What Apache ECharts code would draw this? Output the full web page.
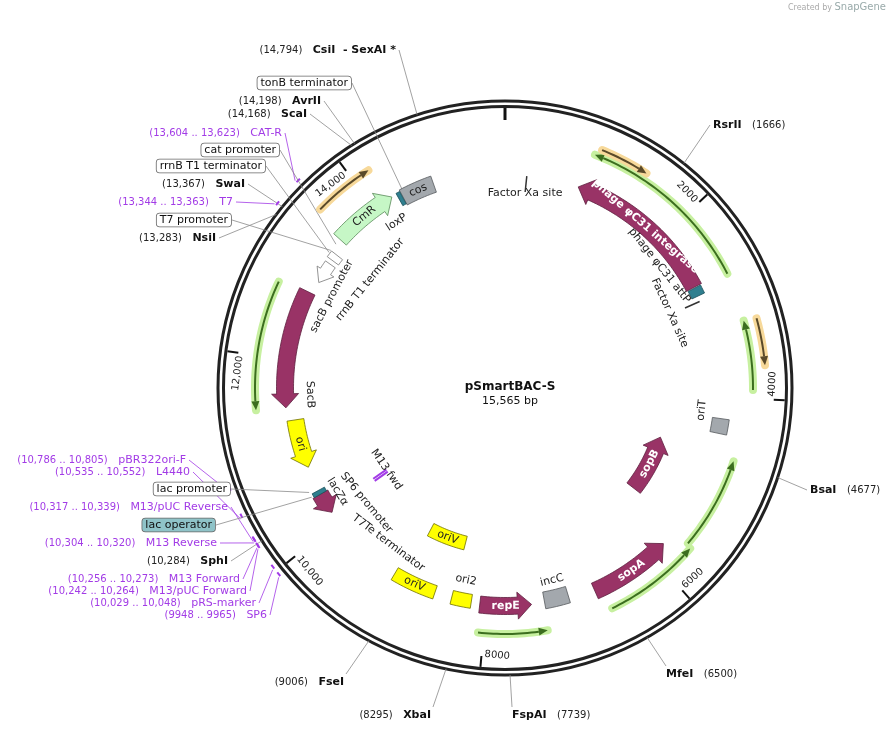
<!DOCTYPE html>
<html>
<head>
<meta charset="utf-8">
<script src="https://cdn.jsdelivr.net/npm/echarts@6/dist/echarts.min.js"></script>
<style>html,body{margin:0;padding:0;background:#fff}#main{width:894px;height:731px}</style>
</head>
<body>
<div id="main"></div>
<script>
"use strict";

var TOTAL = 15565;

// tick labels on the ring
var tickBp = [2000, 4000, 6000, 8000, 10000, 12000, 14000];
var tickText = ["2000", "4000", "6000", "8000", "10,000", "12,000", "14,000"];

// features drawn on the map: name, start, end, direction (1 fwd, -1 rev, 0 none), kind
var featName = ["phage \u03c6C31 integrase", "phage \u03c6C31 attP", "SacB", "CmR", "cos", "loxP", "sacB promoter", "rrnB T1", "ori", "lacZ\u03b1", "lac operator", "oriV", "oriV", "ori2", "repE", "incC", "sopA", "sopB", "oriT"];
var featStart = [865, 2690, 11450, 13490, 14350, 14300, 12950, 13250, 10725, 10130, 10380, 8400, 8600, 8170, 7480, 7050, 5815, 4650, 4240];
var featEnd = [2680, 2790, 12800, 14240, 14730, 14345, 13200, 13330, 11300, 10380, 10430, 8980, 9110, 8400, 8070, 7330, 6750, 5530, 4410];
var featDir = [-1, 0, -1, 1, 0, 0, -1, 0, -1, -1, 0, 0, 0, 0, -1, 0, -1, -1, 0];
var featKind = ["cds", "teal", "cds", "marker", "gray", "teal", "prom", "term", "ori", "cds", "teal", "ori", "ori", "ori", "cds", "gray", "cds", "cds", "gray"];
var featLayer = [214, 214, 220, 222, 216, 216, 214, 214, 212, 213, 213, 160, 216, 216, 218, 216, 222, 163, 218];

// ORF-like highlighted arrows
var orfStart = [912, 3210, 4660, 5660, 7350, 11453, 13577, 960, 3222];
var orfEnd = [2715, 3912, 5635, 6660, 8055, 12763, 14177, 1444, 3675];
var orfDir = [-1, -1, -1, -1, -1, -1, 1, 1, 1];
var orfColor = ["green", "green", "green", "green", "green", "green", "orange", "orange", "orange"];
var orfLayer = [250, 248, 240, 245, 246, 250, 257, 257, 261];

// small Factor Xa / M13 fwd marks
var markBp = [254, 2855, 10160];
var markColor = ["#333", "#333", "#a23be6"];
var markLayer = [205, 205, 152];

// text labels inside the ring
var innerText = ["Factor Xa site", "phage \u03c6C31 attP", "Factor Xa site", "SacB", "sacB promoter", "rrnB T1 terminator", "loxP", "M13 fwd", "SP6 promoter", "lacZ\u03b1", "T7Te terminator", "ori2", "incC", "oriT"];
var innerBp = [254, 2232, 2832, 11590, 12880, 13350, 14130, 10180, 9960, 10300, 9380, 8280, 7190, 4170];
var innerLayer = [196, 197, 181, 195, 196, 173, 198, 144, 180, 197, 194, 196, 198, 198];

// restriction sites, primers and boxed feature labels outside the ring
var siteNum = ["(14,794)", "", "(14,198)", "(14,168)", "(13,604 .. 13,623)", "", "", "(13,367)", "(13,344 .. 13,363)", "", "(13,283)",
  "(10,786 .. 10,805)", "(10,535 .. 10,552)", "", "(10,317 .. 10,339)", "", "(10,304 .. 10,320)", "(10,284)", "(10,256 .. 10,273)", "(10,242 .. 10,264)", "(10,029 .. 10,048)", "(9948 .. 9965)",
  "(9006)", "(8295)", "(7739)", "(6500)", "(4677)", "(1666)"];
var siteName = ["CsiI  - SexAI *", "tonB terminator", "AvrII", "ScaI", "CAT-R", "cat promoter", "rrnB T1 terminator", "SwaI", "T7", "T7 promoter", "NsiI",
  "pBR322ori-F", "L4440", "lac promoter", "M13/pUC Reverse", "lac operator", "M13 Reverse", "SphI", "M13 Forward", "M13/pUC Forward", "pRS-marker", "SP6",
  "FseI", "XbaI", "FspAI", "MfeI", "BsaI", "RsrII"];
var siteBp = [14794, 14380, 14198, 14168, 13604, 13420, 13300, 13367, 13344, 13330, 13283,
  10786, 10535, 10460, 10317, 10400, 10304, 10284, 10256, 10242, 10029, 9948,
  9006, 8295, 7739, 6500, 4677, 1666];
var siteEnd = [0, 0, 0, 0, 13623, 0, 0, 0, 13363, 0, 0,
  10805, 10552, 0, 10339, 0, 10320, 0, 10273, 10264, 10048, 9965,
  0, 0, 0, 0, 0, 0];
var siteKind = ["site", "box", "site", "site", "primer", "box", "box", "site", "primer", "box", "site",
  "primer", "primer", "box", "primer", "tealbox", "primer", "site", "primer", "primer", "primer", "primer",
  "site", "site", "site", "site", "site", "site"];

// label anchor positions (layout only)
var labelAt = [[396, 50], [351, 83], [321, 101], [307, 114], [282, 133], [279, 150], [265, 166], [245, 184], [233, 202], [231, 220], [216, 238],
  [186, 460], [190, 472], [230, 489], [228, 507], [215, 525], [217, 543], [228, 561], [240, 579], [247, 591], [256, 603], [267, 615],
  [344, 682], [431, 715], [512, 715], [666, 674], [810, 490], [713, 125]];

var FONT = "DejaVu Sans";
var PURPLE = "#a23be6";

function pt(api, r, bp) { return api.coord([r, ((bp % TOTAL) + TOTAL) % TOTAL]); }
function deg(bp) { return bp / TOTAL * 360; }
function tanRot(bp) {
  var d = deg(bp);
  var r = -d;
  if (d > 90 && d < 270) r += 180;
  return r * Math.PI / 180;
}
function flipped(bp) { var d = deg(bp); return d > 90 && d < 270; }
function arcPts(api, r, a, b) {
  var out = [], n = Math.max(2, Math.ceil(Math.abs(b - a) / 40));
  for (var i = 0; i <= n; i++) out.push(pt(api, r, a + (b - a) * i / n));
  return out;
}

function featColors(kind) {
  if (kind === "cds") return ["#993366", "#5e1f3f"];
  if (kind === "marker") return ["#c6f7c6", "#5a8a5a"];
  if (kind === "gray") return ["#a3a8ad", "#55595d"];
  if (kind === "teal") return ["#2f7f8f", "#1b4f59"];
  if (kind === "ori") return ["#ffff00", "#6f6f00"];
  return ["#ffffff", "#777"];
}

function renderFeature(params, api) {
  var i = params.dataIndex;
  var r = featLayer[i], a = featStart[i], b = featEnd[i], dir = featDir[i], kind = featKind[i];
  var w = (kind === "term" || kind === "teal") ? 14 : (kind === "prom" ? 12 : 17);
  if (kind === "ori" && i !== 8) w = 14;
  var hw = kind === "prom" ? 4 : 5;
  var bpPx = TOTAL / (2 * Math.PI * r);
  var hl = dir ? Math.min(14 * bpPx, (b - a) * 0.6) : 0;
  var pts = [];
  if (dir === 1) {
    var bb = b - hl;
    pts = arcPts(api, r + w / 2, a, bb);
    pts.push(pt(api, r + w / 2 + hw, bb), pt(api, r, b), pt(api, r - w / 2 - hw, bb));
    pts = pts.concat(arcPts(api, r - w / 2, bb, a));
  } else if (dir === -1) {
    var aa = a + hl;
    pts = [pt(api, r, a), pt(api, r + w / 2 + hw, aa)];
    pts = pts.concat(arcPts(api, r + w / 2, aa, b));
    pts = pts.concat(arcPts(api, r - w / 2, b, aa));
    pts.push(pt(api, r - w / 2 - hw, aa));
  } else {
    pts = arcPts(api, r + w / 2, a, b).concat(arcPts(api, r - w / 2, b, a));
  }
  var c = featColors(kind);
  var children = [{ type: "polygon", shape: { points: pts }, style: { fill: c[0], stroke: c[1], lineWidth: 0.8 } }];
  var mid = (a + b) / 2, p = pt(api, r, mid);
  var label = null, fill = "#fff", bold = true;
  if (kind === "cds" && i !== 9) label = featName[i];
  if (kind === "marker" || kind === "ori" && i !== 13 || i === 4) { label = featName[i]; fill = "#222"; bold = false; }
  if (i === 2) label = null;
  if (label) {
    children.push({
      type: "text", x: p[0], y: p[1], rotation: tanRot(mid),
      style: { text: label, fill: fill, font: (bold ? "bold " : "") + "11px " + FONT, align: "center", verticalAlign: "middle" }
    });
  }
  return { type: "group", children: children };
}

function renderOrf(params, api) {
  var i = params.dataIndex;
  var r = orfLayer[i], a = orfStart[i], b = orfEnd[i], dir = orfDir[i];
  var glow = orfColor[i] === "green" ? "#c7f0a0" : "#f7d99a";
  var line = orfColor[i] === "green" ? "#3c6e1f" : "#5a4a2a";
  var bpPx = TOTAL / (2 * Math.PI * r);
  var hl = 9 * bpPx;
  var tip = dir === 1 ? b : a, base = dir === 1 ? b - hl : a + hl;
  var body = dir === 1 ? arcPts(api, r, a, base) : arcPts(api, r, base, b);
  return {
    type: "group", children: [
      { type: "polyline", shape: { points: arcPts(api, r, a, b) }, style: { stroke: glow, lineWidth: 8, lineCap: "round", fill: null } },
      { type: "polyline", shape: { points: body }, style: { stroke: line, lineWidth: 2, fill: null } },
      { type: "polygon", shape: { points: [pt(api, r, tip), pt(api, r + 4, base), pt(api, r - 4, base)] }, style: { fill: line } }
    ]
  };
}

function renderRing(params, api) {
  var c = pt(api, 0, 0);
  var children = [
    { type: "circle", shape: { cx: c[0], cy: c[1], r: 287 }, style: { fill: null, stroke: "#222", lineWidth: 3 } },
    { type: "circle", shape: { cx: c[0], cy: c[1], r: 281.5 }, style: { fill: null, stroke: "#222", lineWidth: 3 } }
  ];
  var p0 = pt(api, 280, 0), p1 = pt(api, 268, 0);
  children.push({ type: "line", shape: { x1: p0[0], y1: p0[1], x2: p1[0], y2: p1[1] }, style: { stroke: "#111", lineWidth: 3 } });
  return { type: "group", children: children };
}

function renderTick(params, api) {
  var i = params.dataIndex, bp = tickBp[i];
  var p0 = pt(api, 280, bp), p1 = pt(api, 269, bp);
  var lp = pt(api, 272, bp);
  var fl = flipped(bp);
  return {
    type: "group", children: [
      { type: "line", shape: { x1: p0[0], y1: p0[1], x2: p1[0], y2: p1[1] }, style: { stroke: "#111", lineWidth: 2 } },
      {
        type: "text", x: lp[0], y: lp[1], rotation: tanRot(bp),
        style: { text: tickText[i], fill: "#222", font: "10px " + FONT, align: fl ? "left" : "right", verticalAlign: fl ? "bottom" : "top", padding: [0, 3] }
      }
    ]
  };
}

function renderMark(params, api) {
  var i = params.dataIndex, bp = markBp[i], r = markLayer[i];
  var children = [];
  var offs = i === 2 ? [-20, 20] : [0];
  offs.forEach(function (o) {
    var p0 = pt(api, r - 8, bp + o), p1 = pt(api, r + 8, bp + o);
    children.push({ type: "line", shape: { x1: p0[0], y1: p0[1], x2: p1[0], y2: p1[1] }, style: { stroke: markColor[i], lineWidth: i === 2 ? 2 : 1.5 } });
  });
  return { type: "group", children: children };
}

function renderInner(params, api) {
  var i = params.dataIndex, bp = innerBp[i];
  var p = pt(api, innerLayer[i], bp);
  return {
    type: "text", x: p[0], y: p[1], rotation: i === 0 ? 0 : tanRot(bp),
    style: { text: innerText[i], fill: "#222", font: "11px " + FONT, align: "center", verticalAlign: "middle" }
  };
}

function renderSite(params, api) {
  var i = params.dataIndex, kind = siteKind[i], bp = siteBp[i];
  var lx = labelAt[i][0], ly = labelAt[i][1];
  var leftSide = i <= 23;
  var children = [];
  var rr = kind === "box" || kind === "tealbox" ? 222 : (kind === "primer" ? 295 : 287);
  var ring = pt(api, rr, bp);
  var ax = lx + 3, ay = ly;
  if (i >= 22) { ax = lx + 2; ay = ly - 8; }
  if (i === 24 || i === 25) { ax = lx; ay = ly - 8; }
  if (i === 26 || i === 27) { ax = lx - 3; ay = ly; }
  if (kind === "box" || kind === "tealbox") ax = lx + 1;
  children.push({ type: "line", shape: { x1: ax, y1: ay, x2: ring[0], y2: ring[1] }, style: { stroke: kind === "primer" ? PURPLE : "#8a8a8a", lineWidth: 0.8 } });
  if (kind === "primer") {
    var e = Math.max(siteEnd[i], bp + 40);
    children.push({ type: "polyline", shape: { points: arcPts(api, 293, bp, e) }, style: { stroke: PURPLE, lineWidth: 2, fill: null } });
  }
  var text, st = { font: "11px " + FONT, fill: "#111", align: leftSide ? "right" : "left", verticalAlign: "middle" };
  if (kind === "site") {
    text = leftSide ? "{n|" + siteNum[i] + "}   {b|" + siteName[i] + "}" : "{b|" + siteName[i] + "}   {n|" + siteNum[i] + "}";
    st.rich = { n: { font: "10px " + FONT, fill: "#222" }, b: { font: "bold 11px " + FONT, fill: "#111" } };
  } else if (kind === "primer") {
    text = "{n|" + siteNum[i] + "}   {b|" + siteName[i] + "}";
    st.rich = { n: { font: "10px " + FONT, fill: PURPLE }, b: { font: "11px " + FONT, fill: PURPLE } };
  } else {
    text = siteName[i];
    st.backgroundColor = kind === "tealbox" ? "#8fc3c8" : "#fff";
    st.borderColor = "#666";
    st.borderWidth = 0.8;
    st.borderRadius = 3;
    st.padding = [1, 3];
  }
  st.text = text;
  children.push({ type: "text", x: lx, y: ly, style: st, z2: 5 });
  return { type: "group", children: children };
}

var chart = echarts.init(document.getElementById("main"));
chart.setOption({
  animation: false,
  polar: { center: [505, 388], radius: 340 },
  radiusAxis: { min: 0, max: 340, show: false },
  angleAxis: { min: 0, max: TOTAL, startAngle: 90, clockwise: true, show: false },
  title: [
    { text: "pSmartBAC-S", left: 505, top: 376, textAlign: "center", textStyle: { fontFamily: FONT, fontSize: 12, fontWeight: "bold", color: "#111" } },
    { text: "15,565 bp", left: 505, top: 391, textAlign: "center", textStyle: { fontFamily: FONT, fontSize: 11, fontWeight: "normal", color: "#111" } }
  ],
  graphic: [
    { type: "text", right: 62, top: 4, style: { text: "Created by", font: "8px " + FONT, fill: "#aaa" } },
    { type: "text", right: 8, top: 2, style: { text: "SnapGene", font: "10px " + FONT, fill: "#9aa" } }
  ],
  series: [
    { type: "custom", coordinateSystem: "polar", renderItem: renderRing, data: [[0, 0]], silent: true },
    { type: "custom", coordinateSystem: "polar", renderItem: renderSite, data: siteBp.map(function (b) { return [287, b]; }), silent: true },
    { type: "custom", coordinateSystem: "polar", renderItem: renderTick, data: tickBp.map(function (b) { return [275, b]; }), silent: true },
    { type: "custom", coordinateSystem: "polar", renderItem: renderOrf, data: orfStart.map(function (b, i) { return [orfLayer[i], b]; }), silent: true },
    { type: "custom", coordinateSystem: "polar", renderItem: renderFeature, data: featStart.map(function (b, i) { return [featLayer[i], b]; }), silent: true },
    { type: "custom", coordinateSystem: "polar", renderItem: renderMark, data: markBp.map(function (b, i) { return [markLayer[i], b]; }), silent: true },
    { type: "custom", coordinateSystem: "polar", renderItem: renderInner, data: innerBp.map(function (b, i) { return [innerLayer[i], b]; }), silent: true }
  ]
});
</script>
</body>
</html>
